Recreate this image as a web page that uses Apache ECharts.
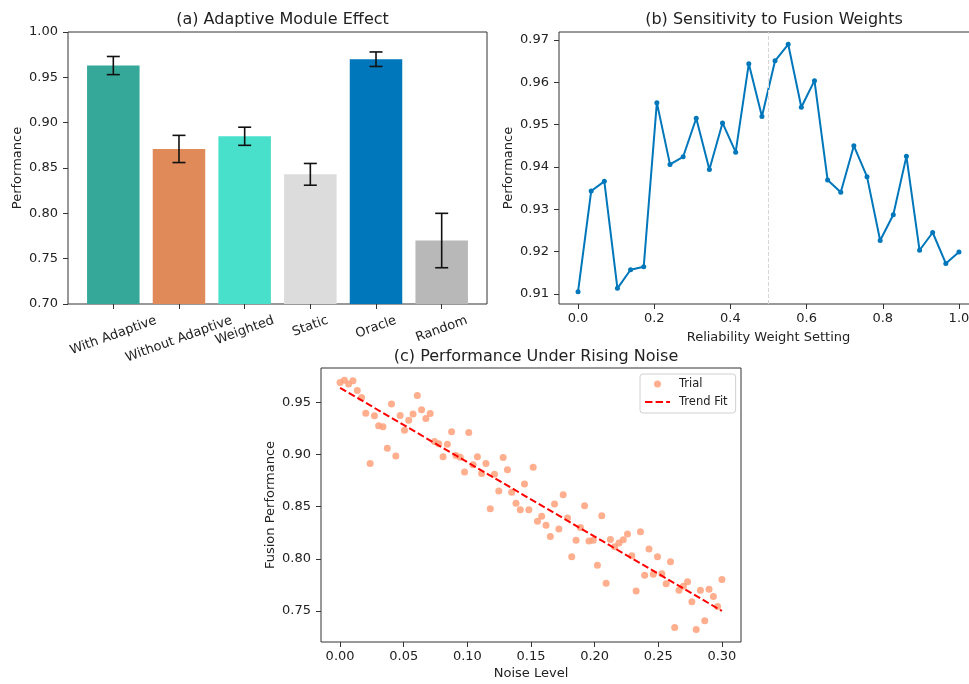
<!DOCTYPE html>
<html>
<head>
<meta charset="utf-8">
<script src="https://cdn.jsdelivr.net/npm/echarts@6/dist/echarts.min.js"></script>
<style>
  html, body { margin: 0; padding: 0; background: #fff; }
  #chart { width: 969px; height: 684px; }
</style>
</head>
<body>
<div id="chart"></div>
<script>
// (a) adaptive module effect
const methods = ['With Adaptive', 'Without Adaptive', 'Weighted', 'Static', 'Oracle', 'Random']
const methodMeans = [0.963, 0.871, 0.885, 0.843, 0.970, 0.770]
const methodErrs = [0.010, 0.015, 0.010, 0.012, 0.008, 0.030]
const methodColors = ['#35a899', '#df8a58', '#48dfcb', '#dcdcdc', '#0077bb', '#b8b8b8']
const ticksAY = [0.70, 0.75, 0.80, 0.85, 0.90, 0.95, 1.00]

// (b) sensitivity to fusion weights
const weightX = [0, 0.0345, 0.069, 0.1034, 0.1379, 0.1724, 0.2069, 0.2414, 0.2759, 0.3103,
  0.3448, 0.3793, 0.4138, 0.4483, 0.4828, 0.5172, 0.5517, 0.5862, 0.6207, 0.6552,
  0.6897, 0.7241, 0.7586, 0.7931, 0.8276, 0.8621, 0.8966, 0.931, 0.9655, 1.0]
const weightPerf = [0.9105, 0.9343, 0.9366, 0.9113, 0.9157, 0.9164, 0.9552, 0.9406, 0.9424, 0.9515,
  0.9394, 0.9504, 0.9435, 0.9644, 0.9519, 0.9651, 0.9690, 0.9541, 0.9604, 0.9369,
  0.9340, 0.9450, 0.9377, 0.9226, 0.9287, 0.9425, 0.9203, 0.9245, 0.9172, 0.9199]
const refWeight = 0.5
const ticksBX = [0, 0.2, 0.4, 0.6, 0.8, 1.0]
const ticksBY = [0.91, 0.92, 0.93, 0.94, 0.95, 0.96, 0.97]

// (c) performance under rising noise
const noiseX = [0, 0.0034, 0.0067, 0.0101, 0.0135, 0.0169, 0.0202, 0.0236, 0.0270, 0.0303,
  0.0337, 0.0371, 0.0404, 0.0438, 0.0472, 0.0506, 0.0539, 0.0573, 0.0607, 0.0640,
  0.0674, 0.0708, 0.0742, 0.0775, 0.0809, 0.0843, 0.0876, 0.0910, 0.0944, 0.0978,
  0.1011, 0.1045, 0.1079, 0.1112, 0.1146, 0.1180, 0.1213, 0.1247, 0.1281, 0.1315,
  0.1348, 0.1382, 0.1416, 0.1449, 0.1483, 0.1517, 0.1551, 0.1584, 0.1618, 0.1652,
  0.1685, 0.1719, 0.1753, 0.1787, 0.1820, 0.1854, 0.1888, 0.1921, 0.1955, 0.1989,
  0.2022, 0.2056, 0.2090, 0.2124, 0.2157, 0.2191, 0.2225, 0.2258, 0.2292, 0.2326,
  0.2360, 0.2393, 0.2427, 0.2461, 0.2494, 0.2528, 0.2562, 0.2596, 0.2629, 0.2663,
  0.2697, 0.2730, 0.2764, 0.2798, 0.2831, 0.2865, 0.2899, 0.2933, 0.2966, 0.3000]
const noisePerf = [0.9692, 0.9712, 0.9676, 0.9708, 0.9615, 0.9548, 0.9397, 0.8913, 0.9372, 0.9276,
  0.9266, 0.9061, 0.9484, 0.8987, 0.9375, 0.9234, 0.9330, 0.9388, 0.9567, 0.9429,
  0.9346, 0.9394, 0.9125, 0.9103, 0.8978, 0.9099, 0.9218, 0.8990, 0.8974, 0.8833,
  0.9212, 0.8901, 0.8978, 0.8817, 0.8913, 0.8481, 0.8811, 0.8651, 0.8971, 0.8853,
  0.8638, 0.8532, 0.8471, 0.8718, 0.8471, 0.8878, 0.8359, 0.8407, 0.8321, 0.8215,
  0.8526, 0.8285, 0.8615, 0.8391, 0.8019, 0.8179, 0.8301, 0.8510, 0.8170, 0.8179,
  0.7939, 0.8413, 0.7766, 0.8186, 0.8115, 0.8151, 0.8183, 0.8237, 0.8029, 0.7692,
  0.8260, 0.7843, 0.8093, 0.7853, 0.8019, 0.7856, 0.7760, 0.7971, 0.7340, 0.7699,
  0.7737, 0.7779, 0.7587, 0.7321, 0.7699, 0.7407, 0.7708, 0.7638, 0.7542, 0.7801]
const trendX = [0, 0.3]
const trendY = [0.964, 0.750]
const ticksCX = [0, 0.05, 0.10, 0.15, 0.20, 0.25, 0.30]
const ticksCY = [0.75, 0.80, 0.85, 0.90, 0.95]

const FONT = 'DejaVu Sans'
const TXT = '#222'
const chart = echarts.init(document.getElementById('chart'))

// rotated labels centred under the tick like matplotlib (rotation=20, ha=center)
const ctx = document.createElement('canvas').getContext('2d')
ctx.font = '13px "' + FONT + '"'
const rad = 20 * Math.PI / 180
const labelRich = {}
methods.forEach((m, i) => {
  const w = ctx.measureText(m).width
  labelRich['c' + i] = {
    fontSize: 13, fontFamily: FONT, color: TXT,
    padding: [w * Math.sin(rad) * Math.cos(rad), w * Math.sin(rad) * Math.sin(rad), 0, 0]
  }
})

// outerBoundsMode none: keep the grids where they are, the figure crops panel (b)
const gridBox = {
  show: true, borderColor: '#333', borderWidth: 1, backgroundColor: 'transparent',
  outerBoundsMode: 'none'
}
const tickLbl = (digits, margin) => ({
  fontSize: 13, fontFamily: FONT, color: TXT, margin,
  formatter: v => Number(v).toFixed(digits)
})

function valueAxis(gridIndex, min, max, ticks, digits, margin, extra) {
  return Object.assign({
    type: 'value', gridIndex, min, max,
    axisLine: { show: false, onZero: false },
    axisTick: { show: true, length: 5, lineStyle: { color: '#333' }, customValues: ticks },
    axisLabel: Object.assign(tickLbl(digits, margin), { customValues: ticks }),
    splitLine: { show: false },
    nameTextStyle: { fontSize: 13, fontFamily: FONT, color: TXT }
  }, extra || {})
}

const titleStyle = { fontSize: 16, fontWeight: 'normal', color: TXT, fontFamily: FONT }
// dashed legend handle for the trend line
const dashIcon = 'path://M0,0h7.4v2h-7.4z M10.6,0h7.4v2h-7.4z M21.2,0h3.8v2h-3.8z'

const option = {
  animation: false,
  backgroundColor: '#fff',
  textStyle: { fontFamily: FONT },
  title: [
    { text: '(a) Adaptive Module Effect', left: 277.5, top: 7, textAlign: 'center', textStyle: titleStyle },
    { text: '(b) Sensitivity to Fusion Weights', left: 769, top: 7, textAlign: 'center', textStyle: titleStyle },
    { text: '(c) Performance Under Rising Noise', left: 531, top: 344, textAlign: 'center', textStyle: titleStyle }
  ],
  grid: [
    Object.assign({ left: 68, top: 32, width: 419, height: 272 }, gridBox),
    Object.assign({ left: 559, top: 32, width: 419, height: 272 }, gridBox),
    Object.assign({ left: 321, top: 368, width: 420, height: 274 }, gridBox)
  ],
  legend: {
    orient: 'vertical', left: 640, top: 374,
    padding: [4, 8, 5, 5], itemGap: 6, itemWidth: 25, itemHeight: 7,
    borderColor: '#d0d0d0', borderWidth: 1, borderRadius: 3, backgroundColor: '#fff',
    textStyle: { fontSize: 11.5, fontFamily: FONT, color: TXT, padding: [0, 0, 0, 4] },
    data: [{ name: 'Trial', icon: 'circle' }, { name: 'Trend Fit', icon: dashIcon }]
  },
  xAxis: [
    valueAxis(0, -0.69, 5.69, [0, 1, 2, 3, 4, 5], 0, 16, {
      axisLabel: {
        customValues: [0, 1, 2, 3, 4, 5], rotate: 20, align: 'center', verticalAlign: 'middle',
        margin: 16, rich: labelRich,
        formatter: v => { const i = Math.round(v); return '{c' + i + '|' + methods[i] + '}' }
      }
    }),
    valueAxis(1, -0.05, 1.05, ticksBX, 1, 8, {
      name: 'Reliability Weight Setting', nameLocation: 'middle', nameGap: 27
    }),
    valueAxis(2, -0.015, 0.315, ticksCX, 2, 8, {
      name: 'Noise Level', nameLocation: 'middle', nameGap: 25
    })
  ],
  yAxis: [
    valueAxis(0, 0.70, 1.00, ticksAY, 2, 10, {
      name: 'Performance', nameLocation: 'middle', nameGap: 44
    }),
    valueAxis(1, 0.9076, 0.9719, ticksBY, 2, 10, {
      name: 'Performance', nameLocation: 'middle', nameGap: 44
    }),
    valueAxis(2, 0.7202, 0.983, ticksCY, 2, 10, {
      name: 'Fusion Performance', nameLocation: 'middle', nameGap: 44
    })
  ],
  series: [
    {
      type: 'bar', xAxisIndex: 0, yAxisIndex: 0, barWidth: 52.5, clip: true,
      data: methods.map((m, i) => ({ value: [i, methodMeans[i]], itemStyle: { color: methodColors[i] } }))
    },
    {
      type: 'custom', xAxisIndex: 0, yAxisIndex: 0, z: 5,
      encode: { x: 0, y: 1 },
      data: methods.map((m, i) => [i, methodMeans[i], methodErrs[i]]),
      renderItem: (params, api) => {
        const x = api.value(0), mu = api.value(1), e = api.value(2)
        const hi = api.coord([x, mu + e]), lo = api.coord([x, mu - e])
        const cap = 6.5
        const style = { stroke: '#111', lineWidth: 1.6 }
        return {
          type: 'group',
          children: [
            { type: 'line', shape: { x1: hi[0], y1: hi[1], x2: lo[0], y2: lo[1] }, style },
            { type: 'line', shape: { x1: hi[0] - cap, y1: hi[1], x2: hi[0] + cap, y2: hi[1] }, style },
            { type: 'line', shape: { x1: lo[0] - cap, y1: lo[1], x2: lo[0] + cap, y2: lo[1] }, style }
          ]
        }
      }
    },
    {
      type: 'line', xAxisIndex: 1, yAxisIndex: 1,
      data: weightX.map((x, i) => [x, weightPerf[i]]),
      symbol: 'circle', symbolSize: 5, showAllSymbol: true,
      lineStyle: { color: '#0077bb', width: 2 },
      itemStyle: { color: '#0077bb' },
      markLine: {
        silent: true, symbol: 'none', label: { show: false },
        lineStyle: { type: 'dashed', color: '#d6d6d6', width: 1 },
        data: [{ xAxis: refWeight }]
      }
    },
    {
      name: 'Trial', type: 'scatter', xAxisIndex: 2, yAxisIndex: 2,
      data: noiseX.map((x, i) => [x, noisePerf[i]]),
      symbolSize: 7,
      itemStyle: { color: '#ffa07a', opacity: 0.85 }
    },
    {
      name: 'Trend Fit', type: 'line', xAxisIndex: 2, yAxisIndex: 2, z: 4,
      data: trendX.map((x, i) => [x, trendY[i]]),
      symbol: 'none',
      lineStyle: { color: '#ff0000', width: 2, type: [7, 3] },
      itemStyle: { color: '#ff0000' }
    }
  ]
}
chart.setOption(option)
</script>
</body>
</html>
